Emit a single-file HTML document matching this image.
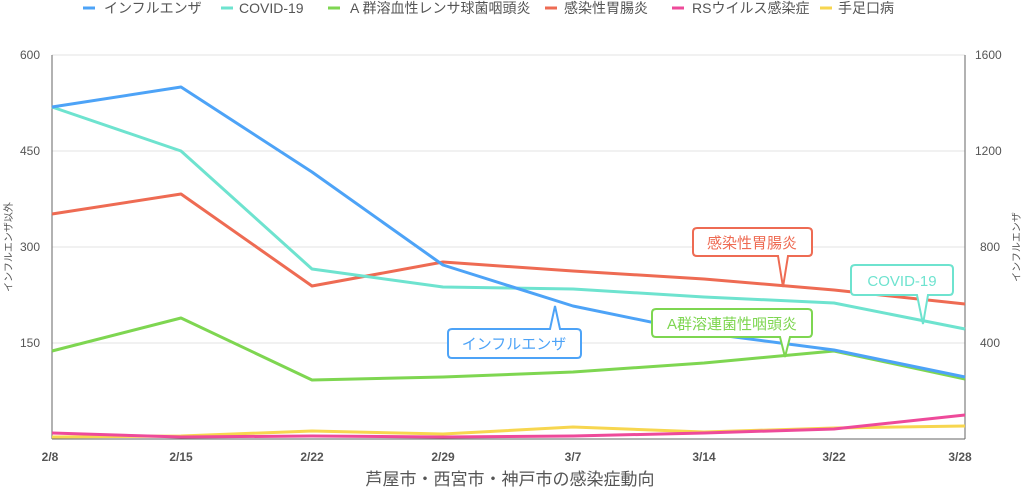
<!DOCTYPE html>
<html><head><meta charset="utf-8"><style>
body{margin:0;background:#fff}
text{font-family:"Liberation Sans","Noto Sans CJK JP",sans-serif}
</style></head><body>
<svg width="1024" height="495" xmlns="http://www.w3.org/2000/svg">
<g font-size="14" fill="#555">
<line x1="83" y1="8" x2="95" y2="8" stroke="#4da3f7" stroke-width="3"/><text x="104" y="13">インフルエンザ</text>
<line x1="221" y1="8" x2="233" y2="8" stroke="#6ee3cf" stroke-width="3"/><text x="239" y="13">COVID-19</text>
<line x1="328" y1="8" x2="340" y2="8" stroke="#7ed651" stroke-width="3"/><text x="350" y="13">A 群溶血性レンサ球菌咽頭炎</text>
<line x1="545" y1="8" x2="557" y2="8" stroke="#ee6b53" stroke-width="3"/><text x="564" y="13">感染性胃腸炎</text>
<line x1="672" y1="8" x2="684" y2="8" stroke="#ee4a9a" stroke-width="3"/><text x="692" y="13">RSウイルス感染症</text>
<line x1="820" y1="8" x2="832" y2="8" stroke="#f7d64f" stroke-width="3"/><text x="838" y="13">手足口病</text>
</g>
<g stroke="#e3e3e3" stroke-width="1">
<line x1="52" y1="55" x2="965" y2="55"/><line x1="52" y1="151" x2="965" y2="151"/>
<line x1="52" y1="247" x2="965" y2="247"/><line x1="52" y1="343" x2="965" y2="343"/>
</g>
<g stroke="#666" stroke-width="1">
<line x1="52" y1="55" x2="52" y2="439"/><line x1="965" y1="55" x2="965" y2="439"/><line x1="52" y1="439" x2="965" y2="439"/>
</g>
<g font-size="12" fill="#555" text-anchor="end">
<text x="40" y="59">600</text><text x="40" y="155">450</text><text x="40" y="251">300</text><text x="40" y="347">150</text>
</g>
<g font-size="12" fill="#555" text-anchor="start">
<text x="975" y="59">1600</text><text x="975" y="155">1200</text><text x="980" y="251">800</text><text x="980" y="347">400</text>
</g>
<text transform="translate(12,247) rotate(-90)" font-size="10" fill="#555" text-anchor="middle">インフルエンザ以外</text>
<text transform="translate(1020,247) rotate(-90)" font-size="10" fill="#555" text-anchor="middle">インフルエンザ</text>
<g font-size="12" font-weight="bold" fill="#555" text-anchor="middle">
<text x="50" y="461">2/8</text><text x="181" y="461">2/15</text><text x="312" y="461">2/22</text><text x="443" y="461">2/29</text>
<text x="573" y="461">3/7</text><text x="704" y="461">3/14</text><text x="834" y="461">3/22</text><text x="960" y="461">3/28</text>
</g>
<text x="510" y="485" font-size="17" fill="#555" text-anchor="middle">芦屋市・西宮市・神戸市の感染症動向</text>
<g fill="none" stroke-width="3" stroke-linejoin="round">
<polyline stroke="#f7d64f" points="52,437 181,436 312,431 443,434 573,427 704,432 834,428 965,426"/>
<polyline stroke="#ee4a9a" points="52,433 181,437 312,436 443,437 573,436 704,433 834,429 965,415"/>
<polyline stroke="#7ed651" points="52,351 181,318 312,380 443,377 573,372 704,363 834,351 965,379"/>
<polyline stroke="#ee6b53" points="52,214 181,194 312,286 443,262 573,271 704,279 834,290 965,304"/>
<polyline stroke="#6ee3cf" points="52,107 181,151 312,269 443,287 573,289 704,297 834,303 965,329"/>
<polyline stroke="#4da3f7" points="52,107 181,87 312,172 443,265 573,306 704,333 834,350 965,377"/>
</g>
<g stroke-width="2" fill="#fff" font-size="15" text-anchor="middle">
<path d="M697,228 H808 Q812,228 812,232 V252 Q812,256 808,256 H788 L783,287 L778,256 H697 Q693,256 693,252 V232 Q693,228 697,228Z" stroke="#ee6b53"/>
<text x="752" y="248" fill="#ee6b53" stroke="none">感染性胃腸炎</text>
<path d="M855,265 H949 Q953,265 953,269 V291 Q953,295 949,295 H928 L923,324 L917,295 H855 Q851,295 851,291 V269 Q851,265 855,265Z" stroke="#6ee3cf"/>
<text x="902" y="286" fill="#6ee3cf" stroke="none">COVID-19</text>
<path d="M656,309 H808 Q812,309 812,313 V333 Q812,337 808,337 H790 L785,357 L780,337 H656 Q652,337 652,333 V313 Q652,309 656,309Z" stroke="#7ed651"/>
<text x="732" y="329" fill="#7ed651" stroke="none">A群溶連菌性咽頭炎</text>
<path d="M452,329 H550 L555,306 L560,329 H577 Q581,329 581,333 V354 Q581,358 577,358 H452 Q448,358 448,354 V333 Q448,329 452,329Z" stroke="#4da3f7"/>
<text x="514" y="349" fill="#4da3f7" stroke="none">インフルエンザ</text>
</g>
</svg>
</body></html>
